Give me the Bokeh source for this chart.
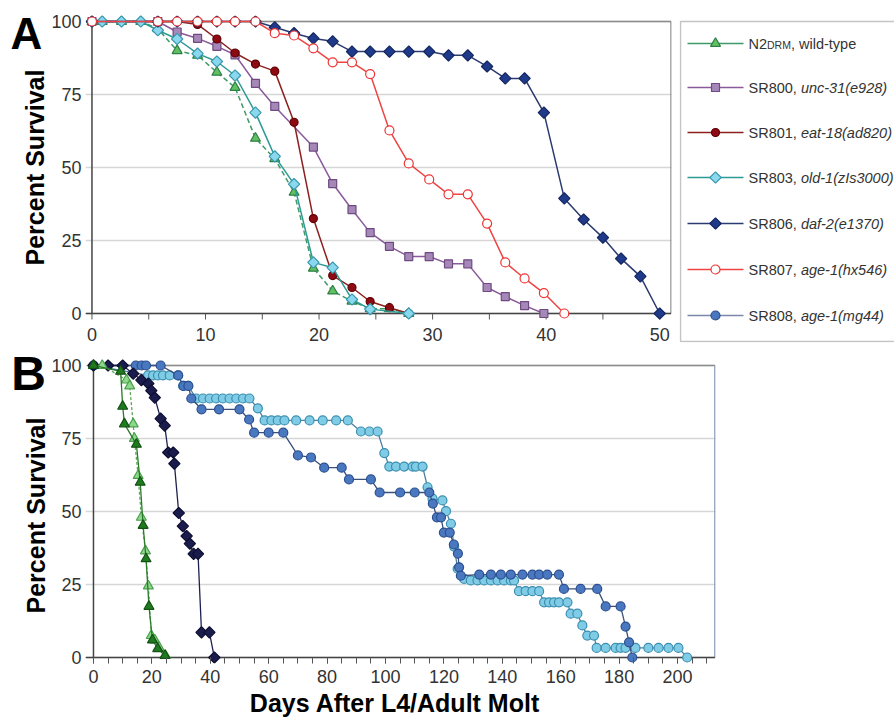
import math
from bokeh.plotting import figure
from bokeh.models import Range1d, FixedTicker
from bokeh.layouts import column, row
from bokeh.embed import file_html
from bokeh.resources import INLINE
from bokeh.core.properties import value

FONT = "Liberation Sans"

# ---------------- Panel A data (days, percent survival) ----------------
a_n2_days = [0, 0.9, 2.6, 4.3, 5.8, 7.5, 9.3, 11.0, 12.6, 14.4, 16.1, 17.8, 19.5, 21.2, 22.9, 24.5, 26.2, 27.9]
a_n2_pct = [100, 100, 100, 100, 97.5, 90, 88.4, 82.6, 77.4, 60, 53, 41.5, 15.5, 7.7, 4.2, 1.6, 1.6, 0]

a_sr800_days = [0, 5.8, 7.5, 9.3, 11.0, 12.6, 14.4, 16.1, 19.5, 21.2, 22.9, 24.5, 26.2, 27.9, 29.7, 31.4, 33.1, 34.8, 36.4, 38.1, 39.8]
a_sr800_pct = [100, 100, 96.4, 94.2, 91.5, 88.6, 78.8, 70.9, 57, 44.5, 35.6, 27.7, 23, 19.5, 19.5, 17, 17, 8.9, 5.8, 2.7, 0]

a_sr801_days = [0, 5.8, 7.5, 9.3, 11.0, 12.6, 14.4, 16.1, 17.8, 19.5, 21.2, 22.9, 24.5, 26.2, 27.9]
a_sr801_pct = [100, 100, 100, 99, 94, 89.2, 85.4, 83, 65.5, 32.5, 13, 8.9, 4.1, 2, 0]

a_sr803_days = [0, 0.9, 2.6, 4.3, 5.8, 7.5, 9.3, 11.0, 12.6, 14.4, 16.1, 17.8, 19.5, 21.2, 22.9, 24.5, 27.9]
a_sr803_pct = [100, 100, 100, 100, 97, 94, 89, 86.3, 81.5, 68.8, 53.8, 44.3, 17.5, 15.7, 4.8, 1.5, 0]

a_sr806_days = [0, 5.8, 7.5, 9.3, 11.0, 12.6, 14.4, 16.1, 17.8, 19.5, 21.2, 22.9, 24.5, 26.2, 27.9, 29.7,
                31.4, 33.1, 34.8, 36.4, 38.1, 39.8, 41.6, 43.3, 45.0, 46.6, 48.3, 50.0]
a_sr806_pct = [100, 100, 100, 100, 100, 100, 100, 98, 96, 94.2, 93.2, 89.7, 89.7, 89.7, 89.7, 89.7,
               88.4, 88.4, 84.6, 80.5, 80.5, 68.8, 39.4, 32.2, 26, 18.8, 12.7, 0]

a_sr807_days = [0, 5.8, 7.5, 9.3, 11.0, 12.6, 14.4, 16.1, 17.8, 19.5, 21.2, 22.9, 24.5, 26.2, 27.9, 29.7,
                31.4, 33.1, 34.8, 36.4, 38.1, 39.8, 41.6]
a_sr807_pct = [100, 100, 100, 100, 100, 100, 100, 96, 95.2, 90.8, 86, 86, 82, 62.7, 51.4, 45.9,
               40.8, 40.8, 30.8, 17.5, 12, 7, 0]

a_x_ticks = [0, 10, 20, 30, 40, 50]
a_x_minor = [0, 5, 10, 15, 20, 25, 30, 35, 40, 45, 50]
y_ticks = [0, 25, 50, 75, 100]

# ---------------- Panel B data ----------------
b_n2a_days = [0, 9.3, 10, 10.6, 14.7, 16, 17, 18, 19, 20.2, 22, 24.5]
b_n2a_pct = [100, 98, 86, 80, 73, 60, 45.2, 33.8, 17.5, 6, 3, 0.7]

b_n2b_days = [0, 3, 11.3, 12.4, 13.6, 14, 15.3, 16.4, 17.8, 18.8, 19.8, 21, 22.5, 24.6]
b_n2b_pct = [100, 100, 95, 93, 80, 75, 62.3, 48, 36.5, 24.5, 7.5, 6, 3.4, 0.7]

b_daf_days = [0, 5, 10, 13.6, 16.4, 18.8, 19.8, 21, 23, 24.4, 25.6, 27.3, 27.7, 29.2, 30.6, 31.9, 33, 34.3,
              35.8, 37, 39.7, 41.4]
b_daf_pct = [100, 100, 100, 97.2, 95, 93.8, 91.4, 89, 81.8, 79.4, 70.2, 70.2, 66.4, 49.5, 45, 41.6, 39, 35.5,
             35.5, 8.6, 8.6, 0]

b_mg44a_days = [0, 14.5, 16.5, 18, 23, 29, 30.8, 32.5, 33.5, 37, 43, 50, 53.3, 55, 60, 65, 70, 74.5, 79, 85,
                87.5, 95, 98, 105, 110, 115, 116.2, 117.6, 119, 120, 122, 123.4, 124.8, 125.2, 125.8, 132.1,
                136.1, 139.5, 142.9, 146.9, 150.3, 152.6, 155.4, 159.4, 161.1, 166.8, 172.5, 175.4, 180.5,
                182.2, 183.4, 184.5]
b_mg44a_pct = [100, 100, 100, 100, 100, 96.6, 93, 93, 88.7, 85, 85, 85, 81.5, 77, 77, 77, 69.2, 68.5, 65, 65,
               61, 61, 56.5, 56.5, 56.5, 56.5, 52.7, 48, 48, 42.8, 42.8, 38.7, 35.6, 30.9, 28, 28.4,
               28.4, 28.4, 28.4, 28.4, 28.4, 28.4, 28.4, 28.4, 23.5, 23.5, 23.5, 17.5, 17.5,
               10.6, 5.2, 0]

b_mg44b_days = [0, 18.7, 20.4, 22.1, 23.8, 26.1, 29, 30.7, 32.4, 35.2, 37.5, 39.8, 42, 44.3, 46.6, 48.9, 51.2,
                53.4, 56.3, 58.6, 60.9, 63.1, 65.4, 69.4, 74, 78.5, 83.1, 87.1, 91.6, 94.5, 97.3, 99.6, 101.3,
                103.6, 106.4, 109.3, 110.4, 112.7, 114.4, 116.1, 119.5, 120.7, 122.4, 123.5, 124.7, 126.9,
                129.2, 131.5, 133.8, 136.1, 138.4, 140.6, 142.9, 144, 145.7, 148, 150.3, 152.6, 154.3, 156,
                157.7, 159.4, 162.3, 163.4, 165.7, 167.4, 169.1, 171.4, 172.3, 175.4, 178.8, 180.5, 182.2,
                185.6, 190, 193.5, 196.9, 200.3, 203.3]
b_mg44b_pct = [100, 96.6, 96.6, 96.6, 96.6, 96.6, 96.6, 93, 93, 88.7, 88.7, 88.7, 88.7, 88.7, 88.7, 88.7, 88.7,
               88.7, 85.3, 81.2, 81.2, 81.2, 81.2, 81.2, 81.2, 81.2, 81.2, 81.2, 77.4, 77.4, 77.4, 70, 65.4,
               65.4, 65.4, 65.4, 65.4, 65.4, 58.3, 54.4, 53.8, 50.1, 45.8, 38, 30.4, 26.9,
               26.4, 26.4, 26.4, 26.4, 26.4, 26.4, 26.4, 26.4, 22.7, 22.7, 22.7, 22.7, 18.9, 18.9,
               18.9, 18.9, 18.9, 15, 15, 11, 7.5, 7.5, 3.3, 3.3, 3.3, 3.3, 3.3,
               3.3, 3.3, 3.3, 3.3, 3.3, 0]

b_x_ticks = [0, 20, 40, 60, 80, 100, 120, 140, 160, 180, 200]
b_x_minor = list(range(0, 215, 5))

legend_labels = [("N2", "DRM", ", wild-type"),
                 ("SR800, ", "unc-31(e928)", None),
                 ("SR801, ", "eat-18(ad820)", None),
                 ("SR803, ", "old-1(zIs3000)", None),
                 ("SR806, ", "daf-2(e1370)", None),
                 ("SR807, ", "age-1(hx546)", None),
                 ("SR808, ", "age-1(mg44)", None)]

# ---------------- styles ----------------
A_STYLES = [
    dict(line="#3f9a68", dash="5 3", marker="triangle", fill="#62bf62", edge="#2c8046", size=10, angle=0),
    dict(line="#8a5a9a", dash="solid", marker="square", fill="#a588b8", edge="#6f4a82", size=8, angle=0),
    dict(line="#8b2020", dash="solid", marker="circle", fill="#8b0a14", edge="#640000", size=8, angle=0),
    dict(line="#2e9a94", dash="solid", marker="square", fill="#8ad8ee", edge="#3a98ae", size=8, angle=math.pi / 4),
    dict(line="#2b3a70", dash="solid", marker="square", fill="#1f3a8a", edge="#14265e", size=8, angle=math.pi / 4),
    dict(line="#ee4444", dash="solid", marker="circle", fill="#ffffff", edge="#ee3333", size=9, angle=0),
    dict(line="#7c88a8", dash="solid", marker="circle", fill="#4a78c0", edge="#2c4f8f", size=9, angle=0),
]
B_STYLES = [
    dict(line="#4f7f9f", dash="solid", marker="circle", fill="#80cce6", edge="#3a8fb0", size=9, angle=0),
    dict(line="#3a4f7a", dash="solid", marker="circle", fill="#4a78c0", edge="#2c4f8f", size=9, angle=0),
    dict(line="#1e2050", dash="solid", marker="square", fill="#1a1c4e", edge="#0e0f30", size=8, angle=math.pi / 4),
    dict(line="#5aaa5a", dash="3 2", marker="triangle", fill="#8ed88e", edge="#4aa04a", size=10, angle=0),
    dict(line="#2a7a2a", dash="solid", marker="triangle", fill="#1e7b1e", edge="#145214", size=10, angle=0),
]


def draw_series(p, xs, ys, st, lw=1.5):
    p.line(xs, ys, line_color=st["line"], line_width=lw, line_dash=st["dash"])
    p.scatter(xs, ys, marker=st["marker"], size=st["size"], angle=st["angle"],
              fill_color=st["fill"], line_color=st["edge"], line_width=1.2)


def bare(width, height, xr, yr, top, bottom):
    f = figure(width=width, height=height, output_backend="svg", toolbar_location=None, title=None,
               x_range=Range1d(*xr), y_range=Range1d(*yr), min_border_left=0, min_border_right=0,
               min_border_top=top, min_border_bottom=bottom, x_axis_location=None, y_axis_location=None)
    f.grid.visible = False
    f.outline_line_color = None
    return f


def style_axes(p, xticks, xminor):
    p.outline_line_color = None
    p.xgrid.visible = False
    p.ygrid.ticker = FixedTicker(ticks=y_ticks)
    p.ygrid.grid_line_color = "#d6d6d6"
    p.ygrid.grid_line_width = 1.5
    p.xaxis.ticker = FixedTicker(ticks=xticks, minor_ticks=xminor)
    p.yaxis.ticker = FixedTicker(ticks=y_ticks)
    for ax in (p.xaxis, p.yaxis):
        ax.axis_line_color = None
        ax.major_label_text_font = FONT
        ax.major_label_text_font_size = "18px"
        ax.major_label_text_color = "#333333"
    p.yaxis.major_tick_line_color = None
    p.yaxis.minor_tick_line_color = None
    p.yaxis.major_tick_in = 0
    p.yaxis.major_tick_out = 0
    p.yaxis.major_label_standoff = 4


def big_text(f, x, y, txt, size, angle=0):
    f.text([x], [y], text=[txt], angle=angle, text_font=value(FONT), text_font_size=size,
           text_font_style="bold", text_align="center", text_baseline="middle", text_color="black")


# ---------------- Panel A (frame 82..671 x 15..342 screen px) ----------------
ax0, ax1 = -0.57, 51.04
pA = figure(width=631, height=347, output_backend="svg", toolbar_location=None, title=None,
            x_range=Range1d(ax0, ax1), y_range=Range1d(-9.93, 102.05),
            min_border_left=34, min_border_right=8, min_border_top=15, min_border_bottom=5)
style_axes(pA, a_x_ticks, a_x_minor)
pA.xaxis.major_tick_line_color = None
pA.xaxis.minor_tick_line_color = None
pA.xaxis.major_tick_in = 0
pA.xaxis.major_tick_out = 0
pA.xaxis.major_label_standoff = -19
# tick marks below the zero line
pA.segment(x0=a_x_minor, y0=[0] * len(a_x_minor), x1=a_x_minor, y1=[-2.05] * len(a_x_minor),
           line_color="#555555", line_width=1)
pA.segment(x0=[0, 51.0], y0=[100, 0], x1=[51.0, 51.0], y1=[100, 100], line_color="#8c8c8c", line_width=1.5)
pA.segment(x0=[0, ax0], y0=[0, 0], x1=[0, 51.0], y1=[100, 0], line_color="#444444", line_width=1.5)

a_series = [(a_n2_days, a_n2_pct), (a_sr800_days, a_sr800_pct), (a_sr801_days, a_sr801_pct),
            (a_sr803_days, a_sr803_pct), (a_sr806_days, a_sr806_pct), (a_sr807_days, a_sr807_pct)]
for (xs, ys), st in zip(a_series, A_STYLES):
    draw_series(pA, xs, ys, st)

# left label strip for panel A (screen px coordinates)
lA = bare(48, 347, (0, 48), (342, 15), 15, 5)
big_text(lA, 26, 33, "A", "44px")
big_text(lA, 34, 167, "Percent Survival", "25px", angle=math.pi / 2)

# ---------------- Legend (screen px coordinates) ----------------
pL = bare(215, 347, (679, 894), (342, 15), 15, 5)
pL.line([910, 680, 680, 910], [21, 21, 341, 341], line_color="#c4c4c4", line_width=1.5)
rows_y = [43, 87, 132, 177, 223, 269, 315]
fs = 14.5
for yy, st, lab in zip(rows_y, A_STYLES, legend_labels):
    pL.line([687, 743], [yy, yy], line_color=st["line"], line_width=1.5)
    pL.scatter([715], [yy], marker=st["marker"], size=st["size"], angle=st["angle"],
               fill_color=st["fill"], line_color=st["edge"], line_width=1.2)
    if lab[2] is not None:
        x1 = 748 + 1.278 * fs
        x2 = x1 + 2.277 * 10.5
        pL.text([748], [yy], text=[lab[0]], text_font=value(FONT), text_font_size=f"{fs}px",
                text_baseline="middle", text_color="#333333")
        pL.text([x1], [yy + 1], text=[lab[1]], text_font=value(FONT), text_font_size="10.5px",
                text_baseline="middle", text_color="#333333")
        pL.text([x2], [yy], text=[lab[2]], text_font=value(FONT), text_font_size=f"{fs}px",
                text_baseline="middle", text_color="#333333")
    else:
        pL.text([748], [yy], text=[lab[0]], text_font=value(FONT), text_font_size=f"{fs}px",
                text_baseline="middle", text_color="#333333")
        pL.text([748 + 3.613 * fs], [yy], text=[lab[1]], text_font=value(FONT), text_font_size=f"{fs}px",
                text_font_style="italic", text_baseline="middle", text_color="#333333")

# ---------------- Panel B (frame 83..715 x 355..663 screen px) ----------------
bx0, bx1 = -2.73, 213.0
bx_range = Range1d(bx0, bx1)
pB = figure(width=846, height=343, output_backend="svg", toolbar_location=None, title=None,
            x_range=bx_range, y_range=Range1d(-2.05, 103.42),
            min_border_left=35, min_border_right=179, min_border_top=8, min_border_bottom=27)
style_axes(pB, b_x_ticks, b_x_minor)
pB.xaxis.major_tick_in = 6
pB.xaxis.major_tick_out = 0
pB.xaxis.minor_tick_in = 6
pB.xaxis.minor_tick_out = 0
pB.xaxis.major_tick_line_color = "#555555"
pB.xaxis.minor_tick_line_color = "#555555"
pB.xaxis.major_label_standoff = 6
pB.segment(x0=[0], y0=[100], x1=[212.8], y1=[100], line_color="#8c8c8c", line_width=1.5)
pB.segment(x0=[212.8], y0=[0], x1=[212.8], y1=[100], line_color="#8a9ab8", line_width=1.5)
pB.segment(x0=[0, bx0], y0=[0, 0], x1=[0, 212.8], y1=[100, 0], line_color="#444444", line_width=1.5)

b_series = [(b_mg44b_days, b_mg44b_pct), (b_mg44a_days, b_mg44a_pct), (b_daf_days, b_daf_pct),
            (b_n2b_days, b_n2b_pct), (b_n2a_days, b_n2a_pct)]
for (xs, ys), st in zip(b_series, B_STYLES):
    draw_series(pB, xs, ys, st, lw=1.3)

lB = bare(48, 343, (0, 48), (663, 355), 8, 27)
big_text(lB, 28, 373, "B", "48px")
big_text(lB, 35, 515, "Percent Survival", "25px", angle=math.pi / 2)

# x-axis title strip under panel B
pX = figure(width=894, height=27, output_backend="svg", toolbar_location=None, title=None,
            x_range=bx_range, y_range=Range1d(717, 690), min_border_left=83, min_border_right=179,
            min_border_top=0, min_border_bottom=0, x_axis_location=None, y_axis_location=None)
pX.grid.visible = False
pX.outline_line_color = None
big_text(pX, 103.6, 702, "Days After L4/Adult Molt", "25px")

layout = column(row(lA, pA, pL), row(lB, pB), pX)
open("out.html", "w").write(file_html(layout, INLINE))
